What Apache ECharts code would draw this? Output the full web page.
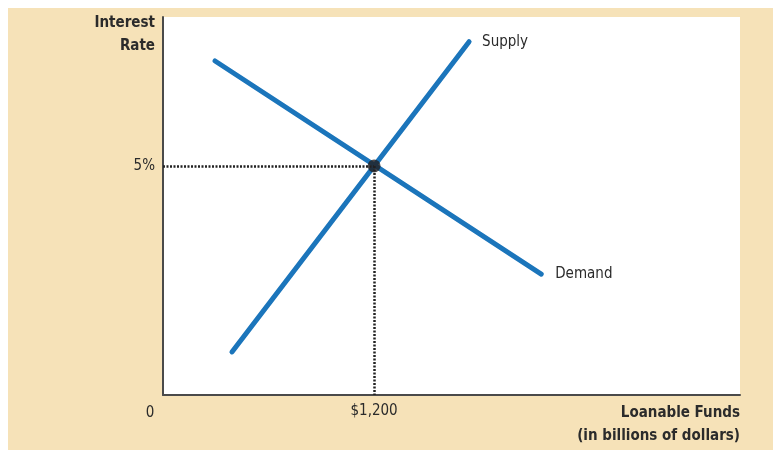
<!DOCTYPE html>
<html>
<head>
<meta charset="utf-8">
<script src="https://cdn.jsdelivr.net/npm/echarts@6/dist/echarts.min.js"></script>
<style>
  html, body { margin: 0; padding: 0; background: #ffffff; }
  #frame { position: absolute; left: 8px; top: 8px; width: 765px; height: 442px; background: #f6e2b8; }
  #chart { position: absolute; left: 0; top: 0; width: 773px; height: 450px; }
</style>
</head>
<body>
<div id="frame"></div>
<div id="chart"></div>
<script>
// ---- data ----
const demandPoints = [[296, 7.29], [2150, 2.64]];
const supplyPoints = [[392, 0.94], [1740, 7.71]];
const equilibrium = [1200, 5];
const xTickValues = [1200];
const xTickLabels = ['$1,200'];
const yTickValues = [5];
const yTickLabels = ['5%'];
const seriesNames = ['Demand', 'Supply'];
const xAxisTitle = ['Loanable Funds', '(in billions of dollars)'];
const yAxisTitle = ['Interest', 'Rate'];
const originLabel = '0';

const FONT = "'Liberation Sans Narrow', 'DejaVu Sans Condensed', 'Open Sans', sans-serif";
const TXT = '#2b2b2b';
const BLUE = '#1b75bb';

const chart = echarts.init(document.getElementById('chart'), null, { renderer: 'canvas' });

const option = {
  animation: false,
  backgroundColor: 'transparent',
  grid: {
    left: 163, top: 17, right: 33, bottom: 55,
    show: true, backgroundColor: '#ffffff', borderWidth: 0
  },
  xAxis: {
    type: 'value', min: 0, max: 3280,
    splitLine: { show: false },
    axisTick: { show: false },
    axisLine: { lineStyle: { color: '#4a4a4a', width: 2 } },
    axisLabel: {
      customValues: xTickValues,
      formatter: (v) => xTickLabels[xTickValues.indexOf(v)],
      color: TXT, fontFamily: FONT, fontSize: 15, margin: 9
    }
  },
  yAxis: {
    type: 'value', min: 0, max: 8.25,
    splitLine: { show: false },
    axisTick: { show: false },
    axisLine: { show: true, lineStyle: { color: '#4a4a4a', width: 2 } },
    axisLabel: {
      customValues: yTickValues,
      formatter: (v) => yTickLabels[yTickValues.indexOf(v)],
      color: TXT, fontFamily: FONT, fontSize: 15, margin: 8
    }
  },
  graphic: [
    { type: 'text', x: 155, y: 12, style: { text: yAxisTitle.join('\n'), align: 'right', verticalAlign: 'top', font: 'bold 15px ' + FONT, fill: TXT, lineHeight: 23 } },
    { type: 'text', x: 150, y: 413, style: { text: originLabel, align: 'center', verticalAlign: 'middle', font: '15px ' + FONT, fill: TXT } },
    { type: 'text', x: 740, y: 402, style: { text: xAxisTitle.join('\n'), align: 'right', verticalAlign: 'top', font: 'bold 15px ' + FONT, fill: TXT, lineHeight: 23 } }
  ],
  series: [
    {
      name: seriesNames[0], type: 'line', data: demandPoints, symbol: 'none', z: 3,
      lineStyle: { color: BLUE, width: 5, cap: 'round' },
      endLabel: { show: true, formatter: seriesNames[0], color: TXT, fontFamily: FONT, fontSize: 15, distance: 14 }
    },
    {
      name: seriesNames[1], type: 'line', data: supplyPoints, symbol: 'none', z: 3,
      lineStyle: { color: BLUE, width: 5, cap: 'round' },
      endLabel: { show: true, formatter: seriesNames[1], color: TXT, fontFamily: FONT, fontSize: 15, distance: 13 }
    },
    {
      type: 'line', data: [], z: 2,
      markLine: {
        silent: true, symbol: 'none', label: { show: false },
        lineStyle: { color: '#222', width: 2.5, type: [2, 1.5] },
        data: [
          [{ coord: [0, equilibrium[1]] }, { coord: equilibrium }],
          [{ coord: equilibrium }, { coord: [equilibrium[0], 0] }]
        ]
      }
    },
    {
      type: 'scatter', data: [equilibrium], symbolSize: 13, z: 5,
      itemStyle: { color: '#231f20' }
    }
  ]
};
chart.setOption(option);
</script>
</body>
</html>
